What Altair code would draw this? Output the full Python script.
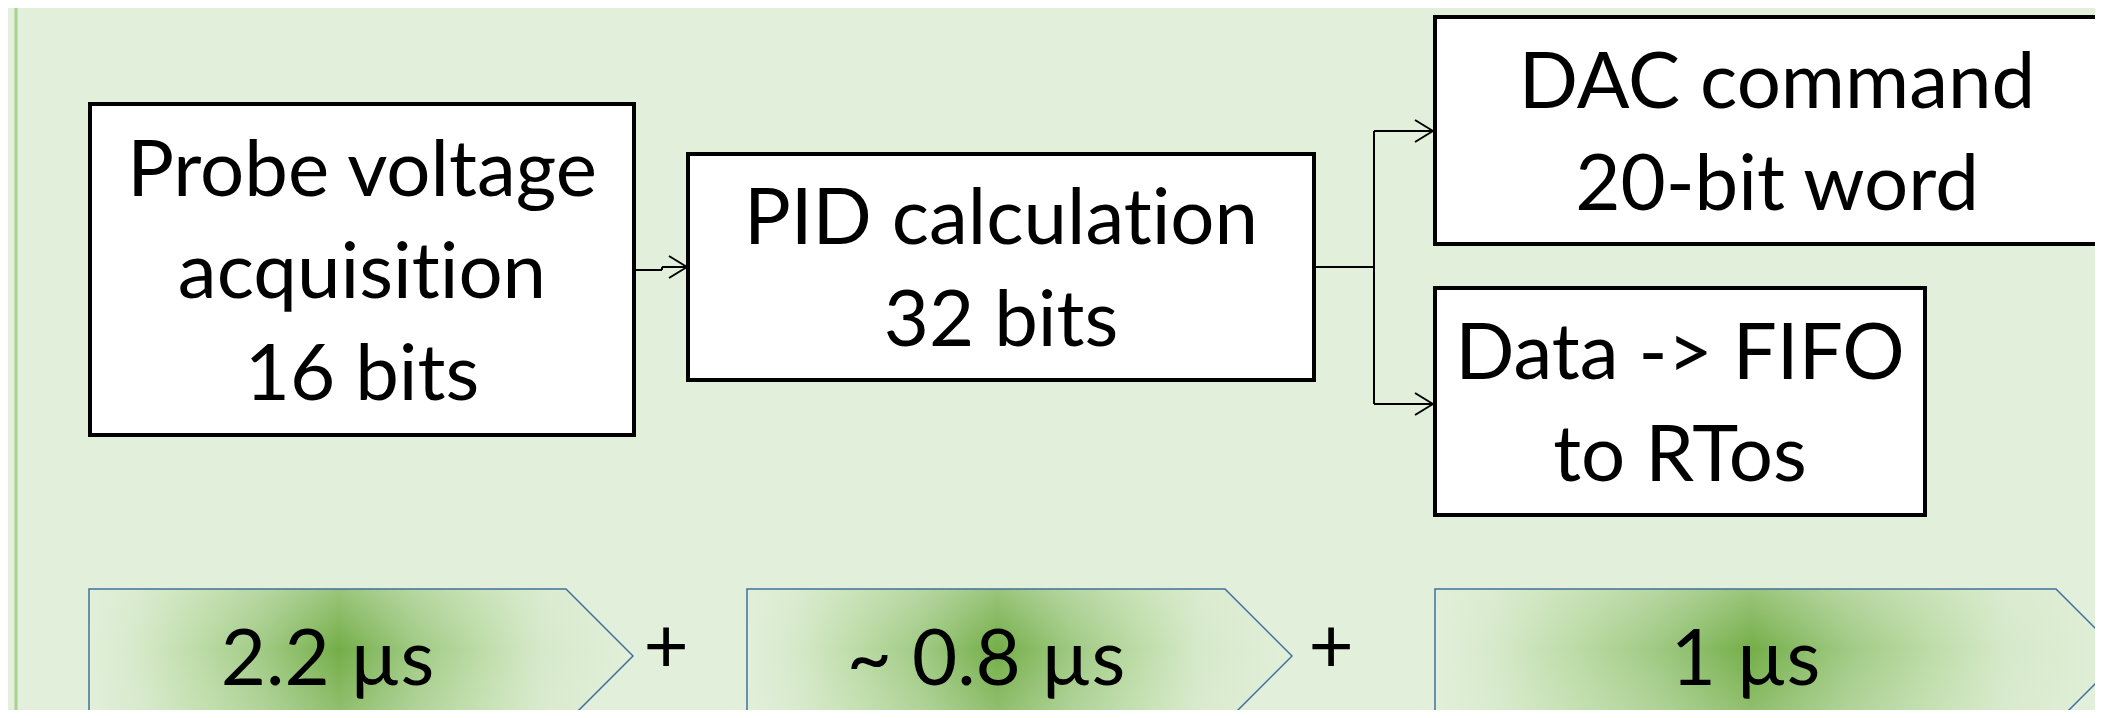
import altair as alt
import pandas as pd

# ---- content ----
ZWNJ = "\u200c"  # keeps the font from fusing "t" and "i" into a ligature
box_lines = [
    ["Probe voltage", "acquisit" + ZWNJ + "ion", "16 bits"],
    ["PID calculat" + ZWNJ + "ion", "32 bits"],
    ["DAC command", "20-bit word"],
    ["Data -> FIFO", "to RTos"],
]
stage_times = ["2.2 µs", "~ 0.8 µs", "1 µs"]
plus_signs = ["+", "+"]

# ---- layout (pixel frame of the reference picture) ----
box_x0 = [90, 688, 1435, 1435]
box_x1 = [634, 1314, 2119, 1925]
box_y0 = [104, 154, 17, 288]
box_y1 = [435, 380, 244, 515]
line_gap = 102
cap_half = 28

chev_x0 = [89, 747, 1435]
chev_xtr = [566, 1225, 2056]
chev_depth = 67
chev_top, chev_mid, chev_bot = 589, 656, 723
time_baseline = 685
plus_x = [666, 1331]
plus_baseline = 673

# connector segments (x, y, x2, y2)
seg_x = [636, 662, 662, 1316, 1374, 1374, 1374]
seg_y = [270, 270, 267, 267, 131, 131, 404]
seg_x2 = [662, 662, 687, 1374, 1374, 1433, 1433]
seg_y2 = [270, 267, 267, 267, 404, 131, 404]
arrow_tips = [(687, 267), (1433, 131), (1433, 404)]

BG = "#e2efda"
FONT = "Lato"
FSIZE = 78
xs = alt.Scale(domain=[8, 2095], nice=False, zero=False)
ys = alt.Scale(domain=[710, 8], nice=False, zero=False)

boxes = pd.DataFrame({"x0": box_x0, "x1": box_x1, "y0": box_y0, "y1": box_y1})

rows = []
for i, lines in enumerate(box_lines):
    cx = (box_x0[i] + box_x1[i]) / 2
    cy = (box_y0[i] + box_y1[i]) / 2
    n = len(lines)
    for j, t in enumerate(lines):
        rows.append({"x": cx, "y": cy + (j - (n - 1) / 2) * line_gap + cap_half, "text": t})
box_text = pd.DataFrame(rows)

chev_rows = []
for i in range(len(stage_times)):
    chev_rows.append({"id": i, "x": chev_x0[i], "y": chev_top, "y2": chev_bot})
    chev_rows.append({"id": i, "x": chev_xtr[i], "y": chev_top, "y2": chev_bot})
    chev_rows.append({"id": i, "x": chev_xtr[i] + chev_depth, "y": chev_mid, "y2": chev_mid})
chev = pd.DataFrame(chev_rows)

time_text = pd.DataFrame({
    "x": [(chev_x0[i] + chev_xtr[i]) / 2 for i in range(len(stage_times))],
    "y": [time_baseline] * len(stage_times),
    "text": stage_times,
})
plus_text = pd.DataFrame({"x": plus_x, "y": [plus_baseline] * len(plus_x), "text": plus_signs})

segs = pd.DataFrame({"x": seg_x, "y": seg_y, "x2": seg_x2, "y2": seg_y2})
ah = []
for tx, ty in arrow_tips:
    ah.append({"x": tx - 18, "y": ty - 11, "x2": tx, "y2": ty})
    ah.append({"x": tx - 18, "y": ty + 11, "x2": tx, "y2": ty})
heads = pd.DataFrame(ah)

side = pd.DataFrame({"x": [16], "y": [8], "y2": [710]})

X = lambda f: alt.X(f, scale=xs, axis=None)
Y = lambda f: alt.Y(f, scale=ys, axis=None)

side_line = alt.Chart(side).mark_rule(color="#a9d08e", strokeWidth=3).encode(
    x=X("x:Q"), y=Y("y:Q"), y2="y2:Q")

box_layer = alt.Chart(boxes).mark_rect(fill="white", stroke="black", strokeWidth=4, clip=True).encode(
    x=X("x0:Q"), x2="x1:Q", y=Y("y0:Q"), y2="y1:Q")

text_layer = alt.Chart(box_text).mark_text(
    font=FONT, fontSize=FSIZE, align="center", baseline="alphabetic", color="black").encode(
    x=X("x:Q"), y=Y("y:Q"), text="text:N")

seg_layer = alt.Chart(segs).mark_rule(color="black", strokeWidth=2).encode(
    x=X("x:Q"), y=Y("y:Q"), x2="x2:Q", y2="y2:Q")
head_layer = alt.Chart(heads).mark_rule(color="black", strokeWidth=2).encode(
    x=X("x:Q"), y=Y("y:Q"), x2="x2:Q", y2="y2:Q")

c = 0.46
grad_h = alt.Gradient(
    gradient="linear", x1=0, x2=1, y1=0, y2=0,
    stops=[
        alt.GradientStop(color="#e2efda", offset=0),
        alt.GradientStop(color="#d6e9ca", offset=c - 0.37),
        alt.GradientStop(color="#bddca7", offset=c - 0.26),
        alt.GradientStop(color="#a0ca84", offset=c - 0.14),
        alt.GradientStop(color="#74ae48", offset=c),
        alt.GradientStop(color="#a0ca84", offset=c + 0.14),
        alt.GradientStop(color="#bddca7", offset=c + 0.26),
        alt.GradientStop(color="#d6e9ca", offset=c + 0.37),
        alt.GradientStop(color="#e2efda", offset=1),
    ],
)
grad_v = alt.Gradient(
    gradient="linear", x1=0, x2=0, y1=0, y2=1,
    stops=[
        alt.GradientStop(color="rgba(226,239,218,0.35)", offset=0),
        alt.GradientStop(color="rgba(226,239,218,0)", offset=0.45),
        alt.GradientStop(color="rgba(226,239,218,0.3)", offset=1),
    ],
)
chev_layer = alt.Chart(chev).mark_area(
    fill=grad_h, orient="vertical", clip=True, interpolate="linear").encode(
    x=X("x:Q"), y=Y("y:Q"), y2="y2:Q", detail="id:N")
chev_shade = alt.Chart(chev).mark_area(
    fill=grad_v, orient="vertical", clip=True, interpolate="linear").encode(
    x=X("x:Q"), y=Y("y:Q"), y2="y2:Q", detail="id:N")
chev_outline = alt.Chart(chev).mark_area(
    fillOpacity=0, stroke="#41719c", strokeWidth=1.5, orient="vertical", clip=True,
    interpolate="linear").encode(
    x=X("x:Q"), y=Y("y:Q"), y2="y2:Q", detail="id:N")

time_layer = alt.Chart(time_text).mark_text(
    font=FONT, fontSize=FSIZE, align="center", baseline="alphabetic", color="black").encode(
    x=X("x:Q"), y=Y("y:Q"), text="text:N")
plus_layer = alt.Chart(plus_text).mark_text(
    font=FONT, fontSize=FSIZE, align="center", baseline="alphabetic", color="black").encode(
    x=X("x:Q"), y=Y("y:Q"), text="text:N")

chart = alt.layer(
    side_line, chev_layer, chev_shade, chev_outline, time_layer, plus_layer,
    seg_layer, head_layer, box_layer, text_layer
).properties(
    width=2087, height=702, background=BG, padding=0,
    autosize=alt.AutoSizeParams(type="none"),
).configure_view(stroke=None)

chart.save("out.html", embed_options={"renderer": "svg", "actions": False})
